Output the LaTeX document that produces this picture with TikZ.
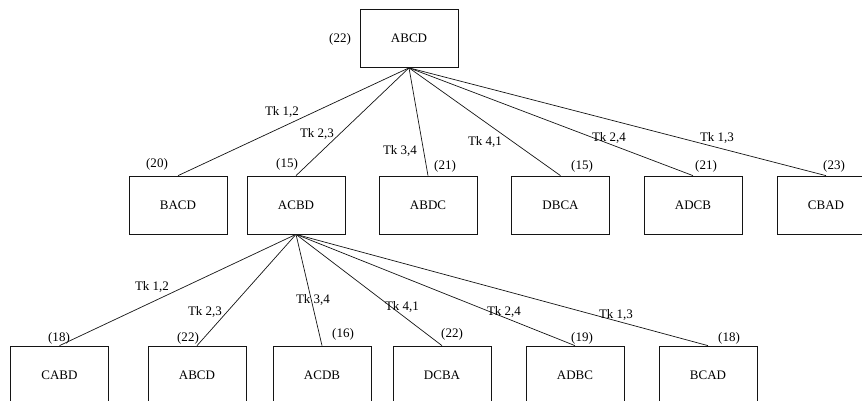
\documentclass[tikz,border=0pt]{standalone}
\usepackage{fontspec}
\setmainfont{Liberation Serif}
\usepackage{tikz}
\usetikzlibrary{arrows.meta, positioning}
\definecolor{DG}{RGB}{20,20,20}

\begin{document}
\begin{tikzpicture}[x=0.03cm, y=-0.03cm,
  state/.style={draw=DG, line width=0.6pt, minimum width=2.94cm,
                minimum height=1.74cm, inner sep=0pt,
                font=\fontsize{11.1}{13}\selectfont},
  cost/.style={font=\fontsize{11.1}{13}\selectfont, inner sep=0pt},
  move/.style={font=\fontsize{11.1}{13}\selectfont, inner sep=0pt},
  link/.style={draw=DG, line width=0.6pt}
]
\useasboundingbox (0,0) rectangle (862,401);
\clip (0,0) rectangle (862,401);

% start state
\node[state] (S0) at (409,38.5) {ABCD};
\node[cost]  (c0) at (340,39) {(22)};

% first neighbourhood
\node[state] (N1) at (178,205) {BACD};
\node[state] (N2) at (296,205) {ACBD};
\node[state] (N3) at (428,205) {ABDC};
\node[state] (N4) at (560.5,205) {DBCA};
\node[state] (N5) at (693,205) {ADCB};
\node[state] (N6) at (826,205) {CBAD};

\node[cost] (c1) at (157,164) {(20)};
\node[cost] (c2) at (287,164) {(15)};
\node[cost] (c3) at (445,166) {(21)};
\node[cost] (c4) at (582,166) {(15)};
\node[cost] (c5) at (706,166) {(21)};
\node[cost] (c6) at (834,166) {(23)};

\draw[link] (S0.south) -- (N1.north);
\draw[link] (S0.south) -- (N2.north);
\draw[link] (S0.south) -- (N3.north);
\draw[link] (S0.south) -- (N4.north);
\draw[link] (S0.south) -- (N5.north);
\draw[link] (S0.south) -- (N6.north);

\node[move] (m1) at (282,112) {Tk 1,2};
\node[move] (m2) at (317,134) {Tk 2,3};
\node[move] (m3) at (400,151) {Tk 3,4};
\node[move] (m4) at (485,142) {Tk 4,1};
\node[move] (m5) at (609,138) {Tk 2,4};
\node[move] (m6) at (717,138) {Tk 1,3};

% second neighbourhood (from ACBD)
\node[state] (M1) at (59.5,375) {CABD};
\node[state] (M2) at (197,375) {ABCD};
\node[state] (M3) at (322,375) {ACDB};
\node[state] (M4) at (442,375) {DCBA};
\node[state] (M5) at (575,375) {ADBC};
\node[state] (M6) at (708,375) {BCAD};

\node[cost] (d1) at (59,338) {(18)};
\node[cost] (d2) at (188,338) {(22)};
\node[cost] (d3) at (343,334) {(16)};
\node[cost] (d4) at (452,334) {(22)};
\node[cost] (d5) at (582,338) {(19)};
\node[cost] (d6) at (729,338) {(18)};

\draw[link] (N2.south) -- (M1.north);
\draw[link] (N2.south) -- (M2.north);
\draw[link] (N2.south) -- (M3.north);
\draw[link] (N2.south) -- (M4.north);
\draw[link] (N2.south) -- (M5.north);
\draw[link] (N2.south) -- (M6.north);

\node[move] (k1) at (152,287) {Tk 1,2};
\node[move] (k2) at (205,312) {Tk 2,3};
\node[move] (k3) at (313,300) {Tk 3,4};
\node[move] (k4) at (402,307) {Tk 4,1};
\node[move] (k5) at (504,312) {Tk 2,4};
\node[move] (k6) at (616,315) {Tk 1,3};
\end{tikzpicture}
\end{document}
